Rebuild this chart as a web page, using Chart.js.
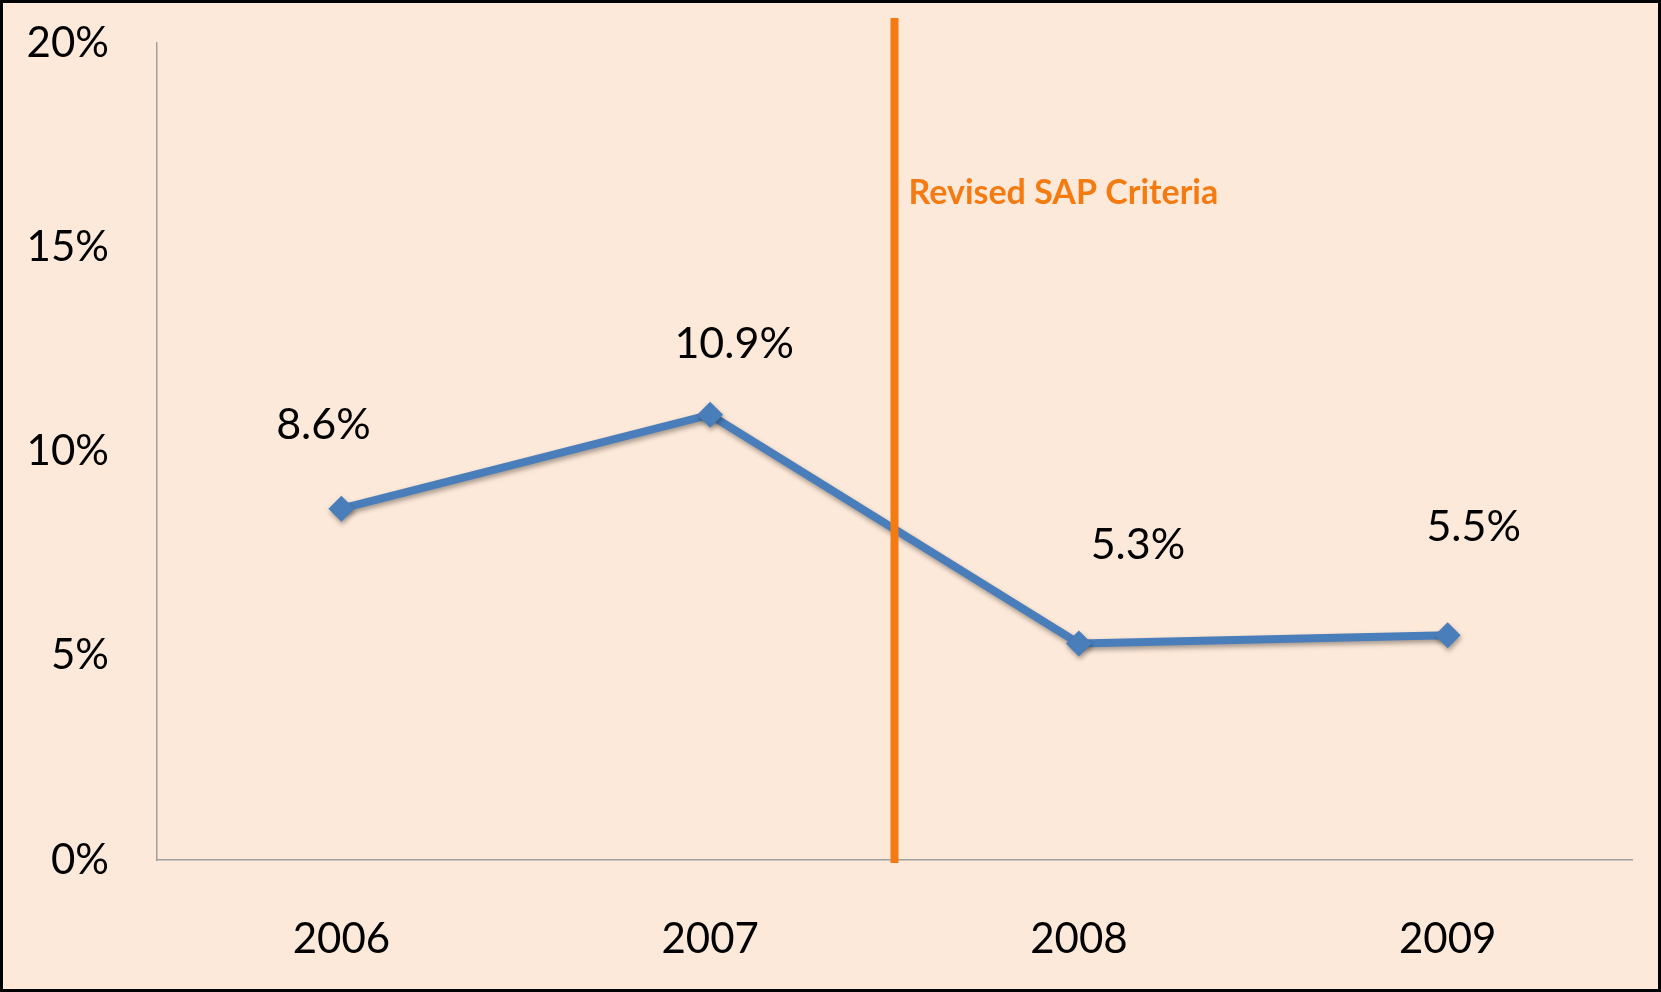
<!DOCTYPE html>
<html>
<head>
<meta charset="utf-8">
<script src="https://cdn.jsdelivr.net/npm/chart.js@4.4.1/dist/chart.umd.min.js"></script>
<style>
  html, body { margin: 0; padding: 0; background: #FDE9D9; }
  #wrap { width: 1661px; height: 992px; position: relative; }
</style>
</head>
<body>
<div id="wrap"><canvas id="c" width="1661" height="992"></canvas></div>
<script>
const categories = ['2006', '2007', '2008', '2009'];
const rateValues = [8.6, 10.9, 5.3, 5.5];
const yTicks = [0, 5, 10, 15, 20];
const markerText = 'Revised SAP Criteria';
const markerAfterIndex = 1;

const FONT = 'Lato, "Open Sans", sans-serif';

const labelOffsetPlugin = {
  id: 'dataLabels',
  afterDatasetsDraw(chart, args, opts) {
    const ctx = chart.ctx;
    const meta = chart.getDatasetMeta(0);
    ctx.save();
    ctx.font = '43px ' + FONT;
    ctx.fillStyle = '#000';
    ctx.textAlign = 'center';
    ctx.textBaseline = 'middle';
    meta.data.forEach((pt, i) => {
      const o = opts.offsets[i];
      ctx.fillText(rateValues[i].toFixed(1) + '%', pt.x + o[0], pt.y + o[1]);
    });
    ctx.restore();
  }
};

const markerPlugin = {
  id: 'marker',
  afterDatasetsDraw(chart) {
    const ctx = chart.ctx;
    const xs = chart.scales.x;
    const x = (xs.getPixelForValue(markerAfterIndex) + xs.getPixelForValue(markerAfterIndex + 1)) / 2;
    const ca = chart.chartArea;
    ctx.save();
    ctx.strokeStyle = '#F47B12';
    ctx.lineWidth = 8;
    ctx.beginPath();
    ctx.moveTo(x, ca.top - 25);
    ctx.lineTo(x, ca.bottom + 3);
    ctx.stroke();
    ctx.fillStyle = '#F47B12';
    ctx.font = 'bold 34px ' + FONT;
    ctx.textAlign = 'left';
    ctx.textBaseline = 'alphabetic';
    ctx.fillText(markerText, x + 14, 204);
    ctx.restore();
  }
};

const framePlugin = {
  id: 'frame',
  beforeDraw(chart) {
    const ctx = chart.ctx;
    ctx.save();
    ctx.fillStyle = '#FDE9D9';
    ctx.fillRect(0, 0, chart.width, chart.height);
    ctx.restore();
  },
  afterDraw(chart) {
    const ctx = chart.ctx;
    ctx.save();
    ctx.strokeStyle = '#000';
    ctx.lineWidth = 4;
    ctx.strokeRect(1, 1, chart.width - 2, chart.height - 2);
    ctx.restore();
  }
};

const shadowPlugin = {
  id: 'shadow',
  beforeDatasetDraw(chart) {
    const ctx = chart.ctx;
    ctx.save();
    ctx.shadowColor = 'rgba(0,0,0,0.35)';
    ctx.shadowBlur = 5;
    ctx.shadowOffsetX = 1;
    ctx.shadowOffsetY = 3;
  },
  afterDatasetDraw(chart) {
    chart.ctx.restore();
  }
};

new Chart(document.getElementById('c'), {
  type: 'line',
  data: {
    labels: categories,
    datasets: [{
      data: rateValues,
      borderColor: '#4A7EBB',
      backgroundColor: '#4A7EBB',
      borderWidth: 8,
      pointStyle: 'rectRot',
      pointRadius: 13,
      pointHoverRadius: 13,
      pointBackgroundColor: '#4A7EBB',
      pointBorderColor: '#4A7EBB',
      pointBorderWidth: 0,
      tension: 0
    }]
  },
  options: {
    responsive: false,
    animation: false,
    events: [],
    layout: { padding: { top: 43, right: 29, left: 0, bottom: 0 } },
    plugins: {
      legend: { display: false },
      tooltip: { enabled: false },
      dataLabels: { offsets: [[-18, -84], [24, -71], [59, -98], [26, -108]] }
    },
    scales: {
      x: {
        offset: true,
        grid: { display: false, drawTicks: false },
        border: { display: true, color: '#A0A0A0', width: 1.5 },
        ticks: { color: '#000', font: { family: FONT, size: 42 }, padding: 54 },
        afterFit(s) { s.height = 132; s.paddingLeft = 0; s.paddingRight = 0; }
      },
      y: {
        min: 0, max: 20,
        afterBuildTicks(s) { s.ticks = yTicks.map(v => ({ value: v })); },
        grid: { display: false, drawTicks: false },
        border: { display: true, color: '#A0A0A0', width: 1.5 },
        ticks: { color: '#000', font: { family: FONT, size: 42 }, padding: 48,
                 callback: v => v + '%' },
        afterFit(s) { s.width = 157; s.paddingTop = 0; s.paddingBottom = 0; }
      }
    }
  },
  plugins: [framePlugin, shadowPlugin, markerPlugin, labelOffsetPlugin]
});
</script>
</body>
</html>
